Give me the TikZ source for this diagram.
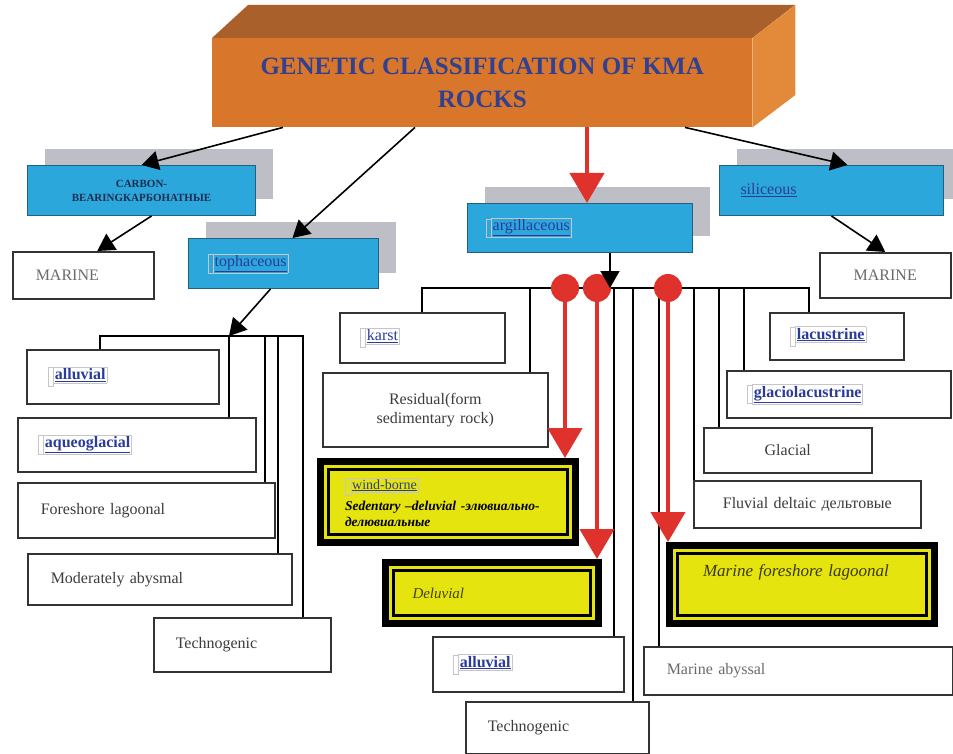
\documentclass[tikz,border=0pt]{standalone}
\usepackage{fontspec}
\setmainfont{Liberation Serif}
\usetikzlibrary{arrows.meta,shadows}

\definecolor{orangeface}{HTML}{D8772C}
\definecolor{orangetop}{HTML}{A9602B}
\definecolor{orangeside}{HTML}{E38A3A}
\definecolor{titrebleu}{HTML}{33408F}
\definecolor{bleu}{HTML}{2CA7DB}
\definecolor{bleufonce}{HTML}{23617F}
\definecolor{gris}{HTML}{BEBFC6}
\definecolor{jaunevif}{HTML}{E6E40E}
\definecolor{rougevif}{HTML}{DF322C}
\definecolor{lbleu}{HTML}{2B3B9B}
\definecolor{lgris}{HTML}{C6C6C6}
\definecolor{bord}{HTML}{333333}
\definecolor{texte}{HTML}{3C3C3C}
\definecolor{gristexte}{HTML}{6B6B6B}
\definecolor{carbtexte}{HTML}{1E2C52}

\newcommand\lnk[1]{{\fboxsep=1pt\fboxrule=0.6pt\color{lgris}\fbox{\vphantom{\underline{Xg}}\kern3pt}\kern-0.6pt\fbox{\color{lbleu}\underline{#1}}}}
\newcommand\lnkb[1]{\lnk{\bfseries #1}}
\newcommand\lnkn[1]{\textcolor{lbleu}{\underline{#1}}}

\begin{document}
\begin{tikzpicture}[x=1pt, y=-1pt]
	\tikzset{boite/.style={rectangle, draw=bord, line width=1.5pt, fill=white, anchor=north west, inner sep=0pt, text=texte, font=\fontsize{16}{19}\selectfont},
	bleue/.style={rectangle, draw=bleufonce, line width=1pt, fill=bleu, anchor=north west, inner sep=0pt, font=\fontsize{16}{19}\selectfont, drop shadow={shadow xshift=17pt, shadow yshift=16pt, fill=gris, opacity=1}},
	jaune/.style={rectangle, draw=black, line width=7pt, fill=jaunevif, anchor=north west, inner sep=0pt},
	cadre/.style={draw=black, line width=2.2pt},
	lien/.style={draw=black, line width=1.3pt},
	fleche/.style={draw=black, line width=1.6pt, -{Triangle[length=17pt, width=19pt]}},
	rouge/.style={draw=rougevif, line width=4.5pt, -{Triangle[length=30pt, width=34pt]}},
	pastille/.style={circle, fill=rougevif, minimum size=28pt, inner sep=0pt}}

	\useasboundingbox (0,0) rectangle (953,754);

	\node[rectangle, fill=orangeface, anchor=north west, minimum width=540pt, minimum height=89pt, inner sep=0pt, align=center, text=titrebleu, font=\bfseries\fontsize{25}{31}\selectfont] (titre) at (212,38) {GENETIC CLASSIFICATION OF KMA\\[2pt]ROCKS};
	\fill[orangetop] (titre.north west) -- ++(36,-33) -- ++(547,0) -- (titre.north east) -- cycle;
	\fill[orangeside] (titre.north east) -- ++(43,-33) -- ++(0,90) -- (titre.south east) -- cycle;

	\node[bleue, minimum width=228pt, minimum height=50pt, align=center, text=carbtexte, font=\bfseries\fontsize{11}{14}\selectfont] (carbon) at (27,165) {CARBON-\\BEARINGКАРБОНАТНЫЕ};
	\node[bleue, minimum width=190pt, minimum height=50pt, text width=152pt, align=left] (toph) at (188,238) {\lnk{tophaceous}};
	\node[bleue, minimum width=225pt, minimum height=49pt, text width=189pt, align=left] (argil) at (467,203) {\lnk{argillaceous}};
	\node[bleue, minimum width=224pt, minimum height=50pt, text width=182pt, align=left] (silic) at (719,165) {\lnkn{siliceous}};

	\foreach \n/\x/\y/\w/\h/\ind/\al/\txt in {
		mar1/12/251/141/47/23/left/{\textcolor{gristexte}{MARINE}},
		mar2/819/252/131/45/0/center/{\textcolor{gristexte}{MARINE}},
		karst/339/312/165/50/20/left/{\lnk{karst}},
		resid/322/372/225/74/0/center/{Residual(form\\sedimentary rock)},
		lacus/769/312/134/47/20/left/{\lnkb{lacustrine}},
		glaclac/726/370/224/47/20/left/{\lnkb{glaciolacustrine}},
		glacial/703/427/168/45/0/center/{Glacial},
		fluv/693/480/227/47/0/center/{Fluvial deltaic дельтовые},
		allu2/432/636/191/55/20/left/{\lnkb{alluvial}},
		techno2/465/701/183/52/22/left/{Technogenic},
		abys/643/646/309/48/23/left/{\textcolor{gristexte}{Marine abyssal}},
		allu1/26/349/192/54/21/left/{\lnkb{alluvial}},
		aqueo/17/417/238/54/20/left/{\lnkb{aqueoglacial}},
		fore/17/482/257/55/23/left/{Foreshore lagoonal},
		moder/27/553/264/51/23/left/{Moderately abysmal},
		techno1/153/617/177/54/22/left/{Technogenic}}{
		\pgfmathsetmacro\tw{\w-2*\ind}
		\node[boite, minimum width=\w pt, minimum height=\h pt, text width=\tw pt, align=\al] (\n) at (\x,\y) {\txt};
	}

	\node[jaune, minimum width=255pt, minimum height=81pt, text width=206pt, align=left, font=\fontsize{14}{16}\selectfont] (wind) at (317,458) {\lnk{wind-borne}\\[4pt]\bfseries\itshape\fontsize{13.5}{14}\selectfont Sedentary –deluvial -элювиально-\\делювиальные};
	\node[jaune, minimum width=213pt, minimum height=61pt, text width=159pt, align=left, text=black!70!jaunevif, font=\itshape\fontsize{15}{18}\selectfont] (delu) at (382,559) {Deluvial};
	\node[jaune, minimum width=265pt, minimum height=78pt, text width=198pt, align=left, text=black!75!jaunevif, font=\itshape\fontsize{17}{20}\selectfont] (marfore) at (666,542) {\raisebox{8pt}[0pt][0pt]{Marine foreshore lagoonal}};
	\foreach \n in {wind, delu, marfore}
		\draw[cadre] ([shift={(11.5pt,-11.5pt)}]\n.north west) rectangle ([shift={(-11.5pt,11.5pt)}]\n.south east);

	\coordinate (ta) at (100,336);
	\coordinate (tb) at (303,336);
	\draw[lien] (ta |- allu1.north) -- (ta) -- (tb) -- (tb |- techno1.north);
	\foreach \n/\x in {aqueo/229, fore/265, moder/278}{
		\coordinate (t-\n) at (\x,336);
		\draw[lien] (t-\n) -- (t-\n |- \n.north);
	}

	\coordinate (ka) at (422,288);
	\coordinate (la) at (809,288);
	\draw[lien] (ka |- karst.north) -- (ka) -- (la) -- (la |- lacus.north);
	\foreach \n/\x in {resid/530, allu2/614, techno2/633, abys/659, fluv/694, glacial/719, glaclac/744}{
		\coordinate (a-\n) at (\x,288);
		\draw[lien] (a-\n) -- (a-\n |- \n.north);
	}

	\foreach \r/\x/\n in {r1/565/wind, r2/597/delu, r3/668/marfore}{
		\node[pastille] (\r) at (\x,288) {};
		\draw[rouge] (\r) -- (\r |- \n.north);
	}

	\coordinate (rs) at ([xshift=375pt]titre.south west);
	\draw[rouge] (rs) -- (rs |- argil.north);
	\draw[fleche] ([xshift=71pt]titre.south west) -- (carbon.north);
	\draw[fleche] ([xshift=203pt]titre.south west) -- ([xshift=9pt]toph.north);
	\draw[fleche] ([xshift=473pt]titre.south west) -- ([xshift=16pt]silic.north);
	\draw[fleche] ([xshift=10pt]carbon.south) -- ([xshift=14pt]mar1.north);
	\draw[fleche] (silic.south) -- (mar2.north);
	\draw[fleche] ([xshift=-13pt]toph.south) -- (t-aqueo);
	\coordinate (ab) at (610,288);
	\draw[fleche] (ab |- argil.south) -- (ab);
\end{tikzpicture}
\end{document}
